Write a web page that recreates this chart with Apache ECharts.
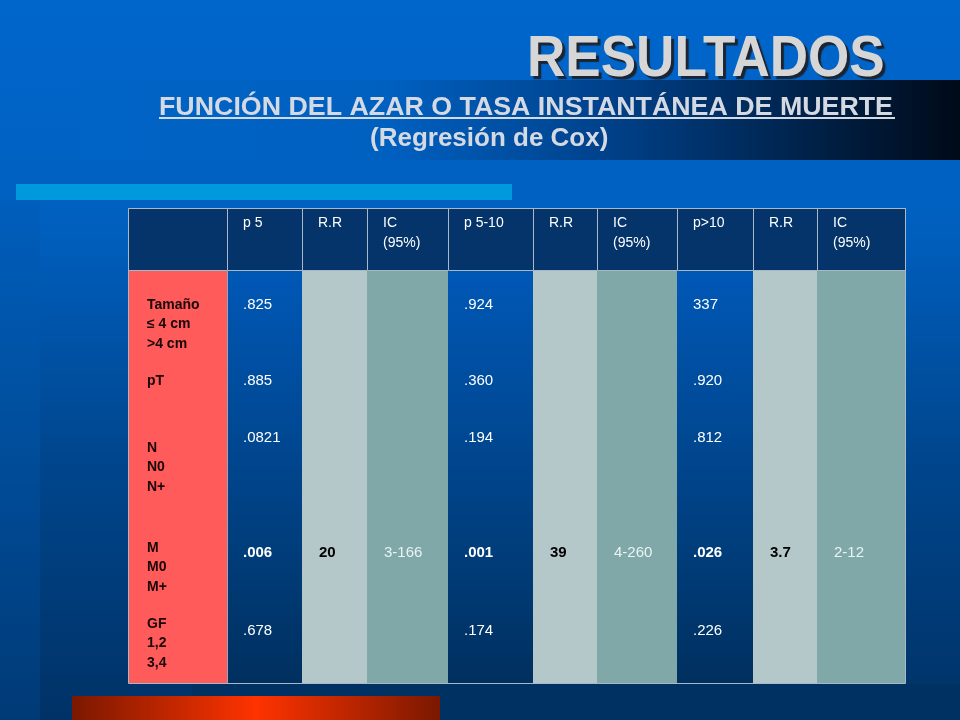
<!DOCTYPE html>
<html>
<head>
<meta charset="utf-8">
<script src="https://cdn.jsdelivr.net/npm/echarts@6/dist/echarts.min.js"></script>
<style>html,body{margin:0;padding:0;background:#0060c0;}#c{width:960px;height:720px;}</style>
</head>
<body>
<div id="c"></div>
<script>
// ---------- data ----------
const columnHeaders = ['', 'p 5', 'R.R', 'IC\n(95%)', 'p 5-10', 'R.R', 'IC\n(95%)', 'p>10', 'R.R', 'IC\n(95%)'];
const columnKinds = ['var', 'p', 'rr', 'ic', 'p', 'rr', 'ic', 'p', 'rr', 'ic'];
const rowLabels = ['Tamaño\n≤ 4 cm\n>4 cm', 'pT', 'N\nN0\nN+', 'M\nM0\nM+', 'GF\n1,2\n3,4'];
const p5 = ['.825', '.885', '.0821', '.006', '.678'];
const rr5 = ['', '', '', '20', ''];
const ic5 = ['', '', '', '3-166', ''];
const p5to10 = ['.924', '.360', '.194', '.001', '.174'];
const rr5to10 = ['', '', '', '39', ''];
const ic5to10 = ['', '', '', '4-260', ''];
const pOver10 = ['337', '.920', '.812', '.026', '.226'];
const rrOver10 = ['', '', '', '3.7', ''];
const icOver10 = ['', '', '', '2-12', ''];
const significant = [false, false, false, true, false];

// ---------- layout (table units = px inside the grid) ----------
const colEdges = [0, 99, 174, 239, 320, 405, 469, 549, 625, 689, 777];
const headerH = 62, tableH = 475;
const labelY = [97, 173, 240, 340, 416];
const valueY = [97, 173, 230, 345, 423];

const columnValues = [rowLabels, p5, rr5, ic5, p5to10, rr5to10, ic5to10, pOver10, rrOver10, icOver10];

const cellData = columnKinds.map((k, i) => [i]);
const textData = [];
columnHeaders.forEach((h, c) => { textData.push([c, -1, h]); });
columnValues.forEach((vals, c) => {
  vals.forEach((v, r) => { if (v !== '') textData.push([c, r, v]); });
});

const FONT = '"Liberation Sans", Arial, sans-serif';
const fills = {
  var: '#ff5b5b',
  p: new echarts.graphic.LinearGradient(0, 0, 0, 1, [{offset: 0, color: '#0058b6'}, {offset: 1, color: '#00305f'}]),
  rr: '#b4c8ca',
  ic: '#80a8a8'
};

const chart = echarts.init(document.getElementById('c'));
chart.setOption({
  animation: false,
  backgroundColor: 'transparent',
  grid: {left: 128, top: 208, width: 777, height: 475},
  xAxis: {type: 'value', min: 0, max: 777, show: false},
  yAxis: {type: 'value', min: 0, max: tableH, inverse: true, show: false},
  graphic: [
    {type: 'rect', z: -10, shape: {x: 0, y: 0, width: 960, height: 720},
      style: {fill: new echarts.graphic.LinearGradient(0, 0, 0, 1, [
        {offset: 0, color: '#0066cc'}, {offset: 0.3, color: '#0060c0'}, {offset: 0.65, color: '#00458c'}, {offset: 1, color: '#003266'}])}},
    {type: 'rect', z: -9, shape: {x: 0, y: 200, width: 40, height: 520},
      style: {fill: new echarts.graphic.LinearGradient(0, 0, 0, 1, [
        {offset: 0, color: '#005ebc'}, {offset: 1, color: '#003a76'}])}},
    {type: 'rect', z: -9, shape: {x: 192, y: 684, width: 768, height: 36}, style: {fill: '#003163'}},
    {type: 'rect', z: -9, shape: {x: 80, y: 80, width: 880, height: 80},
      style: {fill: new echarts.graphic.LinearGradient(0, 0, 1, 0, [
        {offset: 0, color: '#0064c6'}, {offset: 0.35, color: '#0060c0'}, {offset: 0.6, color: '#00418a'}, {offset: 1, color: '#000a18'}])}},
    {type: 'rect', z: -8, shape: {x: 16, y: 184, width: 496, height: 16}, style: {fill: '#0099dd'}},
    {type: 'rect', z: -8, shape: {x: 72, y: 696, width: 368, height: 24},
      style: {fill: new echarts.graphic.LinearGradient(0, 0, 1, 0, [
        {offset: 0, color: '#7a1800'}, {offset: 0.5, color: '#ff3300'}, {offset: 1, color: '#7a1800'}])}},
    {type: 'text', z: 50, x: 527, y: 31, scaleX: 0.915,
      style: {text: 'RESULTADOS', font: 'bold 58px ' + FONT, fill: '#d6d6d6', verticalAlign: 'top',
        textShadowColor: '#1a2433', textShadowOffsetX: 3, textShadowOffsetY: 3, textShadowBlur: 1}},
    {type: 'text', z: 50, x: 159, y: 95, scaleX: 1.03,
      style: {text: 'FUNCIÓN DEL AZAR O TASA INSTANTÁNEA DE MUERTE', font: 'bold 26px ' + FONT, fill: '#d4d9e2',
        verticalAlign: 'top'}},
    {type: 'rect', z: 50, shape: {x: 159, y: 117, width: 736, height: 2}, style: {fill: '#d4d9e2'}},
    {type: 'text', z: 50, x: 370, y: 126,
      style: {text: '(Regresión de Cox)', font: 'bold 26px ' + FONT, fill: '#d4d9e2', verticalAlign: 'top'}}
  ],
  series: [
    {
      type: 'custom', coordinateSystem: 'cartesian2d', z: 2, silent: true,
      data: cellData,
      renderItem: function (params, api) {
        const c = api.value(0);
        const kind = columnKinds[c];
        const tl = api.coord([colEdges[c], 0]);
        const hb = api.coord([colEdges[c + 1], headerH]);
        const bb = api.coord([colEdges[c + 1], tableH]);
        return {type: 'group', children: [
          {type: 'rect', shape: {x: tl[0], y: hb[1], width: bb[0] - tl[0], height: bb[1] - hb[1]}, style: {fill: fills[kind]}},
          {type: 'rect', shape: {x: tl[0] + 0.5, y: tl[1] + 0.5, width: hb[0] - tl[0], height: hb[1] - tl[1]},
            style: {fill: '#04346a', stroke: '#a9b8c8', lineWidth: 1}}
        ]};
      }
    },
    {
      type: 'custom', coordinateSystem: 'cartesian2d', z: 3, silent: true,
      data: [[0]],
      renderItem: function (params, api) {
        const a = api.coord([0, 0]);
        const b = api.coord([777, tableH]);
        const s = api.coord([colEdges[1], headerH]);
        return {type: 'group', children: [
          {type: 'rect', shape: {x: a[0] + 0.5, y: a[1] + 0.5, width: b[0] - a[0], height: b[1] - a[1]},
            style: {fill: null, stroke: '#a9b8c8', lineWidth: 1}},
          {type: 'line', shape: {x1: s[0] + 0.5, y1: s[1], x2: s[0] + 0.5, y2: b[1]},
            style: {stroke: '#9aa6b4', lineWidth: 1}}
        ]};
      }
    },
    {
      type: 'custom', coordinateSystem: 'cartesian2d', z: 4, silent: true,
      data: textData,
      renderItem: function (params, api) {
        const c = api.value(0), r = api.value(1);
        const txt = textData[params.dataIndex][2];
        const kind = columnKinds[c];
        let y, font, fill, lh;
        let xoff = c === 0 ? 19 : 16;
        if (r < 0) {
          lh = 19.5; y = 15.5; font = '14px ' + FONT; fill = '#ffffff';
        } else if (c === 0) {
          y = labelY[r]; font = 'bold 14px ' + FONT; fill = '#1a0606'; lh = 19.5;
        } else {
          lh = 20;
          y = valueY[r];
          const bold = kind === 'rr' || (kind === 'p' && significant[r]);
          font = (bold ? 'bold ' : '') + '15px ' + FONT;
          fill = kind === 'rr' ? '#000000' : (kind === 'ic' ? '#eaf4f4' : '#ffffff');
          xoff = kind === 'p' ? 16 : 17;
        }
        const p = api.coord([colEdges[c] + xoff, y]);
        return {type: 'text', x: p[0], y: p[1] - lh / 2,
          style: {text: txt, font: font, fill: fill, lineHeight: lh, verticalAlign: 'top'}};
      }
    }
  ]
});
</script>
</body>
</html>
